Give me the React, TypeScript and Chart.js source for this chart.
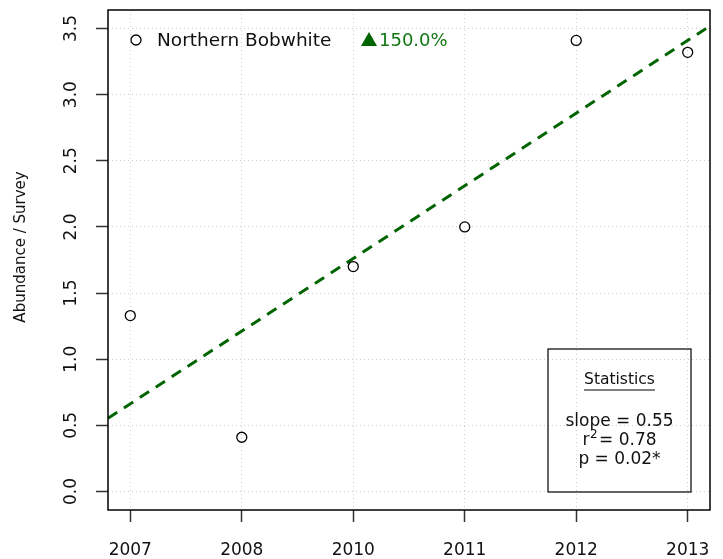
import React, { useEffect, useRef } from 'react';
import { Chart, registerables } from 'chart.js';

Chart.register(...registerables);

const categories = ['2007', '2008', '2010', '2011', '2012', '2013'];
const positions = [1, 2, 3, 4, 5, 6];
const abundance = [1.33, 0.41, 1.7, 2.0, 3.41, 3.32];
const trendX = [0.8, 6.2];
const trendY = [0.553, 3.52];
const yTicks = [0, 0.5, 1, 1.5, 2, 2.5, 3, 3.5];
const yTickLabels = ['0.0', '0.5', '1.0', '1.5', '2.0', '2.5', '3.0', '3.5'];
const speciesName = 'Northern Bobwhite';
const changeLabel = '150.0%';
const statsTitle = 'Statistics';
const slopeText = 'slope = 0.55';
const r2Value = '= 0.78';
const pText = 'p = 0.02*';
const yTitle = 'Abundance / Survey';

const FONT = '"DejaVu Sans", sans-serif';
const GREEN = '#006400';
const TEXT = '#111';

const overlay = {
  id: 'overlay',
  afterDraw(chart: any) {
    const ctx = chart.ctx as CanvasRenderingContext2D;
    const a = chart.chartArea;
    const ys = chart.scales.y;
    ctx.save();
    // frame
    ctx.strokeStyle = '#000';
    ctx.lineWidth = 1.5;
    ctx.setLineDash([]);
    ctx.strokeRect(a.left, a.top, a.right - a.left, a.bottom - a.top);

    // y tick labels (rotated)
    ctx.fillStyle = TEXT;
    ctx.font = `17px ${FONT}`;
    ctx.textAlign = 'center';
    ctx.textBaseline = 'middle';
    yTicks.forEach((v, i) => {
      const py = ys.getPixelForValue(v);
      ctx.save();
      ctx.translate(a.left - 36, py);
      ctx.rotate(-Math.PI / 2);
      ctx.fillText(yTickLabels[i], 0, 0);
      ctx.restore();
    });

    // y title
    ctx.save();
    ctx.font = `15px ${FONT}`;
    ctx.translate(21, 247);
    ctx.rotate(-Math.PI / 2);
    ctx.fillText(yTitle, 0, 0);
    ctx.restore();

    // legend
    const ly = a.top + 30;
    ctx.beginPath();
    ctx.lineWidth = 1.3;
    ctx.strokeStyle = '#000';
    ctx.arc(a.left + 28, ly, 5, 0, Math.PI * 2);
    ctx.stroke();
    ctx.font = `18.5px ${FONT}`;
    ctx.textAlign = 'left';
    ctx.fillStyle = TEXT;
    ctx.fillText(speciesName, a.left + 49, ly + 1);
    ctx.fillStyle = GREEN;
    ctx.beginPath();
    const tx = a.left + 261;
    ctx.moveTo(tx - 8, ly + 6);
    ctx.lineTo(tx + 8, ly + 6);
    ctx.lineTo(tx, ly - 8);
    ctx.closePath();
    ctx.fill();
    ctx.fillStyle = '#117711';
    ctx.font = `18px ${FONT}`;
    ctx.fillText(changeLabel, tx + 10, ly + 1);

    // stats box
    const bx = a.left + 440;
    const by = a.top + 339;
    const bw = 143;
    const bh = 143;
    ctx.strokeStyle = '#000';
    ctx.lineWidth = 1.2;
    ctx.strokeRect(bx, by, bw, bh);
    const cx = bx + bw / 2;
    ctx.fillStyle = TEXT;
    ctx.font = `15.5px ${FONT}`;
    ctx.textAlign = 'center';
    ctx.textBaseline = 'middle';
    ctx.fillText(statsTitle, cx, by + 31);
    const tw = ctx.measureText(statsTitle).width;
    ctx.beginPath();
    ctx.lineWidth = 1;
    ctx.moveTo(cx - tw / 2, by + 41);
    ctx.lineTo(cx + tw / 2, by + 41);
    ctx.stroke();
    const SF = `17px ${FONT}`;
    ctx.font = SF;
    ctx.fillText(slopeText, cx, by + 73);
    // r^2 line
    ctx.textAlign = 'left';
    const rW = ctx.measureText('r').width;
    ctx.font = `12px ${FONT}`;
    const sW = ctx.measureText('2').width;
    ctx.font = SF;
    const vW = ctx.measureText(r2Value).width;
    const total = rW + sW + 2 + vW;
    const x0 = cx - total / 2;
    const r2y = by + 92;
    ctx.fillText('r', x0, r2y);
    ctx.font = `12px ${FONT}`;
    ctx.fillText('2', x0 + rW + 0.5, r2y - 6);
    ctx.font = SF;
    ctx.fillText(r2Value, x0 + rW + sW + 2, r2y);
    ctx.textAlign = 'center';
    ctx.fillText(pText, cx, by + 111);
    ctx.restore();
  },
};

export default function App() {
  const ref = useRef<HTMLCanvasElement | null>(null);
  useEffect(() => {
    document.body.style.margin = '0';
    const canvas = ref.current;
    if (!canvas) return;
    const chart = new Chart(canvas, {
      type: 'scatter',
      data: {
        datasets: [
          {
            type: 'line',
            label: 'trend',
            data: trendX.map((x, i) => ({ x, y: trendY[i] })),
            borderColor: GREEN,
            borderWidth: 3,
            borderDash: [11, 8],
            pointRadius: 0,
            fill: false,
            order: 2,
          } as any,
          {
            label: speciesName,
            data: positions.map((x, i) => ({ x, y: abundance[i] })),
            pointRadius: 5,
            pointBorderWidth: 1.3,
            pointBorderColor: '#000',
            pointBackgroundColor: 'rgba(255,255,255,0)',
            order: 1,
          },
        ],
      },
      options: {
        animation: false,
        responsive: false,
        maintainAspectRatio: false,
        devicePixelRatio: 1,
        layout: { padding: { top: 10, right: 13, left: 0, bottom: 0 } },
        plugins: { legend: { display: false }, tooltip: { enabled: false } },
        scales: {
          x: {
            type: 'linear',
            min: 0.8,
            max: 6.2,
            afterBuildTicks: (s: any) => {
              s.ticks = positions.map((v) => ({ value: v }));
            },
            afterFit: (s: any) => {
              s.height = 49;
              s.paddingLeft = 0;
              s.paddingRight = 0;
            },
            ticks: {
              color: TEXT,
              font: { family: FONT, size: 17 },
              padding: 18,
              maxRotation: 0,
              callback: (v: any) => categories[positions.indexOf(Number(v))] ?? '',
            },
            grid: {
              color: '#d0d0d0',
              lineWidth: 1,
              tickLength: 12,
              tickColor: '#333',
              tickWidth: 1.5,
              tickBorderDash: [],
            },
            border: { display: false, dash: [1, 3] },
          },
          y: {
            type: 'linear',
            min: -0.14,
            max: 3.64,
            afterBuildTicks: (s: any) => {
              s.ticks = yTicks.map((v) => ({ value: v }));
            },
            afterFit: (s: any) => {
              s.width = 108;
              s.paddingTop = 0;
              s.paddingBottom = 0;
            },
            ticks: { display: false },
            grid: {
              color: '#d0d0d0',
              lineWidth: 1,
              tickLength: 12,
              tickColor: '#333',
              tickWidth: 1.5,
              tickBorderDash: [],
            },
            border: { display: false, dash: [1, 3] },
          },
        },
      },
      plugins: [overlay],
    });
    return () => chart.destroy();
  }, []);
  return (
    <div style={{ width: 723, height: 559 }}>
      <canvas ref={ref} width={723} height={559} style={{ display: 'block' }} />
    </div>
  );
}
